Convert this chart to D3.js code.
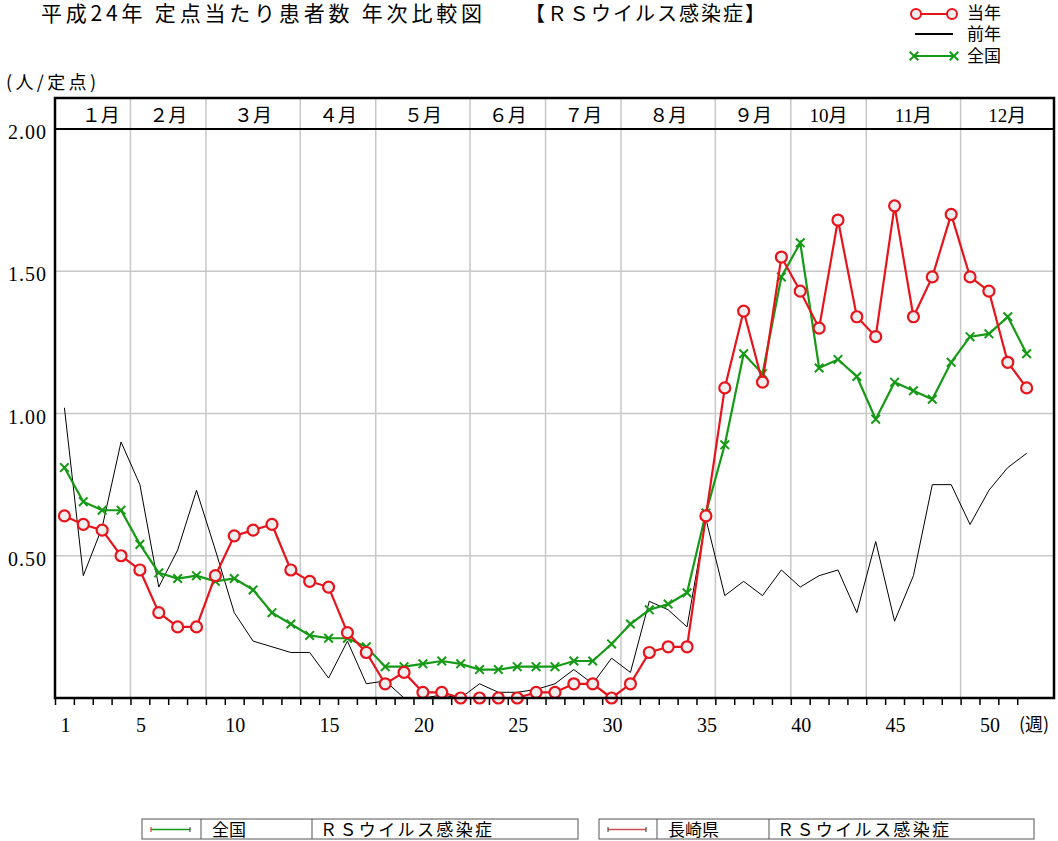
<!DOCTYPE html>
<html>
<head>
<meta charset="utf-8">
<script src="https://cdn.jsdelivr.net/npm/d3@7"></script>
<style>
  body { margin: 0; background: #fff; }
  svg text { font-family: "Liberation Serif", "Noto Sans CJK JP", serif; fill: #000; }
  .jp { font-family: "Noto Sans CJK JP", sans-serif; }
</style>
</head>
<body>
<svg id="chart" width="1058" height="841"></svg>
<script>
// 週
const weeks = [1,2,3,4,5,6,7,8,9,10,11,12,13,14,15,16,17,18,19,20,21,22,23,24,25,26,
               27,28,29,30,31,32,33,34,35,36,37,38,39,40,41,42,43,44,45,46,47,48,49,50,51,52];

// 当年 (長崎県)
const touNen = [0.64,0.61,0.59,0.50,0.45,0.30,0.25,0.25,0.43,0.57,0.59,0.61,0.45,0.41,0.39,0.23,
                0.16,0.05,0.09,0.02,0.02,0.00,0.00,0.00,0.00,0.02,0.02,0.05,0.05,0.00,0.05,0.16,
                0.18,0.18,0.64,1.09,1.36,1.11,1.55,1.43,1.30,1.68,1.34,1.27,1.73,1.34,1.48,1.70,
                1.48,1.43,1.18,1.09];

// 前年
const zenNen = [1.02,0.43,0.60,0.90,0.75,0.39,0.52,0.73,0.52,0.30,0.20,0.18,0.16,0.16,0.07,0.20,
                0.05,0.06,0.00,0.00,0.01,0.00,0.05,0.02,0.02,0.03,0.05,0.10,0.05,0.14,0.09,0.34,
                0.31,0.25,0.63,0.36,0.41,0.36,0.45,0.39,0.43,0.45,0.30,0.55,0.27,0.43,0.75,0.75,
                0.61,0.73,0.81,0.86];

// 全国
const zenkoku = [0.81,0.69,0.66,0.66,0.54,0.44,0.42,0.43,0.41,0.42,0.38,0.30,0.26,0.22,0.21,0.21,
                 0.18,0.11,0.11,0.12,0.13,0.12,0.10,0.10,0.11,0.11,0.11,0.13,0.13,0.19,0.26,0.31,
                 0.33,0.37,0.65,0.89,1.21,1.14,1.48,1.60,1.16,1.19,1.13,0.98,1.11,1.08,1.05,1.18,
                 1.27,1.28,1.34,1.21];

// 月 (week boundaries)
const months = ["１月","２月","３月","４月","５月","６月","７月","８月","９月","10月","11月","12月"];
const monthEdges = [0.5,4.5,8.5,13.5,17.5,22.5,26.5,30.5,35.5,39.5,43.5,48.5,53.45];

const yTicks = [0.5, 1.0, 1.5, 2.0];
const xLabels = [1,5,10,15,20,25,30,35,40,45,50];

const RED = "#e8141c", GREEN = "#159a15";

const svg = d3.select("#chart");
const pLeft = 55, pRight = 1054, pTop = 98, pHead = 129, pBottom = 698;

const x = d3.scaleLinear().domain([0.5, 53.45]).range([pLeft, pRight]);
const y = d3.scaleLinear().domain([0, 2]).range([pBottom, pHead]);

// title
svg.append("text").attr("class", "jp").attr("x", 41).attr("y", 21)
  .attr("font-size", 21).attr("textLength", 441).attr("lengthAdjust", "spacing")
  .text("平成24年 定点当たり患者数 年次比較図");
svg.append("text").attr("class", "jp").attr("x", 525).attr("y", 21)
  .attr("font-size", 20).attr("textLength", 240).attr("lengthAdjust", "spacing")
  .text("【ＲＳウイルス感染症】");

svg.append("text").attr("class", "jp").attr("x", 6).attr("y", 89)
  .attr("font-size", 18).attr("textLength", 90).attr("lengthAdjust", "spacing")
  .text("(人/定点)");

// grid
svg.append("g").selectAll("line").data(yTicks.slice(0, 3)).join("line")
  .attr("x1", pLeft).attr("x2", pRight)
  .attr("y1", d => y(d)).attr("y2", d => y(d))
  .attr("stroke", "#c8c8c8").attr("stroke-width", 1.5);

svg.append("g").selectAll("line").data(monthEdges.slice(1, -1)).join("line")
  .attr("x1", d => x(d)).attr("x2", d => x(d))
  .attr("y1", pTop).attr("y2", pBottom)
  .attr("stroke", "#c8c8c8").attr("stroke-width", 1.5);

// month header
svg.append("line").attr("x1", pLeft).attr("x2", pRight).attr("y1", pHead).attr("y2", pHead)
  .attr("stroke", "#000").attr("stroke-width", 2);
svg.append("g").selectAll("text").data(months).join("text")
  .attr("x", (d, i) => (x(monthEdges[i]) + x(monthEdges[i + 1])) / 2 + (i === 0 ? 8 : 0))
  .attr("y", 122).attr("text-anchor", "middle").attr("font-size", 19)
  .text(d => d);

// y tick labels
svg.append("g").selectAll("text").data(yTicks).join("text")
  .attr("x", 47).attr("y", d => y(d) + 10).attr("text-anchor", "end")
  .attr("font-size", 20).attr("letter-spacing", 1).text(d => d.toFixed(2));

// x ticks + labels
const xAxis = d3.axisBottom(x)
  .tickValues(weeks.map(w => w - 0.5))
  .tickSize(7).tickFormat("");
const gx = svg.append("g").attr("transform", `translate(0,${pBottom})`).call(xAxis);
gx.select(".domain").remove();
gx.selectAll(".tick line").attr("stroke", "#000").attr("stroke-width", 1.5);

svg.append("g").selectAll("text").data(xLabels).join("text")
  .attr("x", d => x(d) + 1).attr("y", 732).attr("text-anchor", "middle")
  .attr("font-size", 20).text(d => d);
svg.append("text").attr("class", "jp").attr("x", 1019).attr("y", 731)
  .attr("font-size", 18).text("(週)");

// lines
const line = d3.line().x((d, i) => x(weeks[i])).y(d => y(d));

svg.append("path").datum(zenNen).attr("d", line)
  .attr("fill", "none").attr("stroke", "#000").attr("stroke-width", 1);

svg.append("path").datum(zenkoku).attr("d", line)
  .attr("fill", "none").attr("stroke", GREEN).attr("stroke-width", 2.2);
const cross = d3.symbol().type(d3.symbolX).size(50);
svg.append("g").selectAll("path").data(zenkoku).join("path")
  .attr("transform", (d, i) => `translate(${x(weeks[i])},${y(d)})`)
  .attr("d", cross).attr("fill", "none").attr("stroke", GREEN).attr("stroke-width", 2);

svg.append("path").datum(touNen).attr("d", line)
  .attr("fill", "none").attr("stroke", RED).attr("stroke-width", 2.2);
svg.append("g").selectAll("circle").data(touNen).join("circle")
  .attr("cx", (d, i) => x(weeks[i])).attr("cy", d => y(d)).attr("r", 5.5)
  .attr("fill", "#eeeeee").attr("stroke", RED).attr("stroke-width", 2.2);

// plot border
svg.append("rect").attr("x", pLeft).attr("y", pTop)
  .attr("width", pRight - pLeft).attr("height", pBottom - pTop)
  .attr("fill", "none").attr("stroke", "#000").attr("stroke-width", 2.5);

// top right legend
const lg = svg.append("g");
lg.append("line").attr("x1", 916).attr("x2", 952).attr("y1", 14).attr("y2", 14)
  .attr("stroke", RED).attr("stroke-width", 2.2);
lg.selectAll("circle").data([916, 952]).join("circle")
  .attr("cx", d => d).attr("cy", 14).attr("r", 5)
  .attr("fill", "#eeeeee").attr("stroke", RED).attr("stroke-width", 2);
lg.append("line").attr("x1", 915).attr("x2", 953).attr("y1", 34).attr("y2", 34)
  .attr("stroke", "#000").attr("stroke-width", 2);
lg.append("line").attr("x1", 914).attr("x2", 954).attr("y1", 56).attr("y2", 56)
  .attr("stroke", GREEN).attr("stroke-width", 2);
lg.selectAll("path").data([914, 954]).join("path")
  .attr("transform", d => `translate(${d},56)`).attr("d", cross)
  .attr("fill", "none").attr("stroke", GREEN).attr("stroke-width", 2);
lg.selectAll("text").data([["当年", 19], ["前年", 40], ["全国", 62]]).join("text")
  .attr("class", "jp").attr("x", 967).attr("y", d => d[1])
  .attr("font-size", 17).text(d => d[0]);

// bottom legend boxes
const boxes = [
  { x0: 142, x1: 578, d1: 201, d2: 312, name: "全国", color: GREEN, cap: RED },
  { x0: 599, x1: 1034, d1: 657, d2: 769, name: "長崎県", color: "#c85050", cap: "#333" }
];
const bl = svg.append("g").selectAll("g").data(boxes).join("g");
bl.append("rect").attr("x", d => d.x0).attr("y", 819).attr("width", d => d.x1 - d.x0)
  .attr("height", 20).attr("fill", "#fff").attr("stroke", "#555").attr("stroke-width", 1);
bl.append("line").attr("x1", d => d.d1).attr("x2", d => d.d1).attr("y1", 819).attr("y2", 839)
  .attr("stroke", "#555");
bl.append("line").attr("x1", d => d.d2).attr("x2", d => d.d2).attr("y1", 819).attr("y2", 839)
  .attr("stroke", "#555");
bl.append("line").attr("x1", d => d.x0 + 9).attr("x2", d => d.d1 - 11).attr("y1", 829.5).attr("y2", 829.5)
  .attr("stroke", d => d.color).attr("stroke-width", 1.5);
bl.append("line").attr("x1", d => d.x0 + 9).attr("x2", d => d.x0 + 9).attr("y1", 827).attr("y2", 832)
  .attr("stroke", d => d.cap);
bl.append("line").attr("x1", d => d.d1 - 11).attr("x2", d => d.d1 - 11).attr("y1", 827).attr("y2", 832)
  .attr("stroke", "#333");
bl.append("text").attr("class", "jp").attr("x", d => d.d1 + 11).attr("y", 836)
  .attr("font-size", 17).text(d => d.name);
bl.append("text").attr("class", "jp").attr("x", d => d.d2 + 8).attr("y", 836)
  .attr("font-size", 17).attr("textLength", 172).attr("lengthAdjust", "spacing")
  .text("ＲＳウイルス感染症");
</script>
</body>
</html>
